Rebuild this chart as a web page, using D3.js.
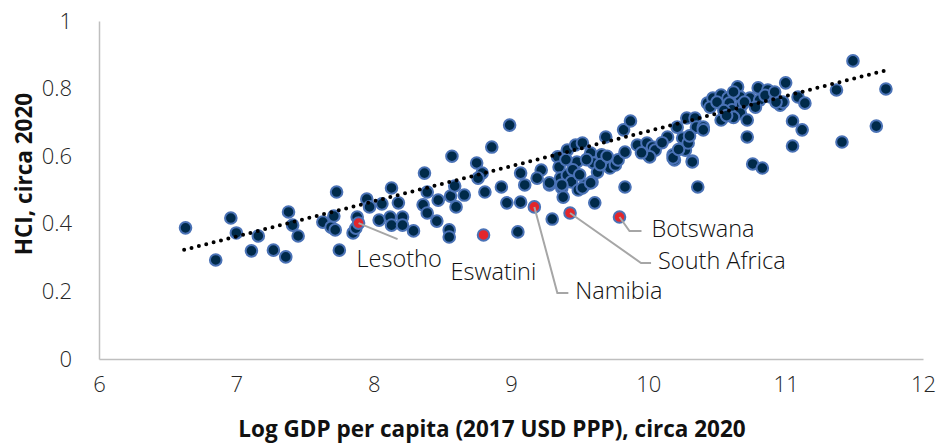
<!DOCTYPE html>
<html>
<head>
<meta charset="utf-8">
<script src="https://cdn.jsdelivr.net/npm/d3@7"></script>
<style>
  html, body { margin: 0; padding: 0; background: #ffffff; }
  svg { display: block; }
  text { font-family: "Open Sans", "Noto Sans", sans-serif; }
</style>
</head>
<body>
<svg id="chart" width="939" height="445"></svg>
<script>
// Log GDP per capita (2017 USD PPP) for each country, circa 2020
const gdp = [
  6.63, 6.85, 6.96, 7.00, 7.11, 7.16, 7.27, 7.36, 7.38, 7.41,
  7.45, 7.63, 7.69, 7.71, 7.73, 7.72, 7.85, 7.75, 7.88, 7.87,
  7.95, 7.97, 8.06, 8.13, 8.18, 8.04, 8.12, 8.13, 8.21, 8.21,
  8.29, 8.37, 8.39, 8.36, 8.39, 8.46, 8.47, 8.55, 8.55, 8.57,
  8.56, 8.59, 8.60, 8.66, 8.75, 8.79, 8.76, 8.86, 8.81, 8.93,
  8.97, 9.05, 9.07, 8.99, 9.07, 9.10, 9.22, 9.19, 9.28, 9.30,
  9.34, 9.35, 9.36, 9.37, 9.38, 9.41, 9.41, 9.44, 9.47, 9.48,
  9.49, 9.52, 9.54, 9.58, 9.59, 9.60, 9.61, 9.63, 9.66, 9.69,
  9.72, 9.76, 9.78, 9.83, 9.82, 9.87, 9.83, 9.92, 9.99, 10.00,
  10.03, 10.05, 10.01, 10.14, 10.18, 10.19, 10.21, 10.25, 10.27, 10.29,
  10.32, 10.28, 10.34, 10.35, 10.40, 10.36, 10.43, 10.47, 10.53, 10.53,
  10.58, 10.59, 10.61, 10.65, 10.67, 10.68, 10.67, 10.72, 10.72, 10.74,
  10.76, 10.83, 10.80, 10.81, 10.87, 10.89, 10.96, 11.00, 10.98, 10.93,
  11.09, 11.14, 11.05, 11.12, 11.05, 11.37, 11.49, 11.73, 11.66, 11.41,
  9.37, 9.28, 9.52, 9.58, 10.18, 10.32, 10.40, 9.45, 9.50, 9.55,
  9.40, 9.65, 9.70, 9.95, 10.10, 10.22, 10.30, 10.45, 10.50, 10.55,
  10.62, 10.70, 10.78, 10.85, 10.92, 10.62, 10.57
];

// Human Capital Index for the same countries, circa 2020
const hci = [
  0.388, 0.293, 0.417, 0.373, 0.320, 0.364, 0.322, 0.302, 0.435, 0.396,
  0.364, 0.405, 0.390, 0.423, 0.494, 0.382, 0.373, 0.322, 0.420, 0.387,
  0.473, 0.450, 0.459, 0.506, 0.462, 0.411, 0.420, 0.396, 0.420, 0.396,
  0.379, 0.550, 0.494, 0.456, 0.432, 0.408, 0.470, 0.382, 0.361, 0.600,
  0.482, 0.512, 0.450, 0.485, 0.580, 0.550, 0.535, 0.627, 0.494, 0.509,
  0.462, 0.376, 0.550, 0.692, 0.464, 0.515, 0.559, 0.535, 0.515, 0.414,
  0.598, 0.568, 0.535, 0.506, 0.479, 0.618, 0.544, 0.524, 0.633, 0.583,
  0.500, 0.639, 0.515, 0.609, 0.524, 0.580, 0.462, 0.553, 0.604, 0.657,
  0.565, 0.574, 0.589, 0.612, 0.678, 0.704, 0.509, 0.633, 0.639, 0.604,
  0.627, 0.618, 0.598, 0.657, 0.604, 0.589, 0.686, 0.654, 0.618, 0.639,
  0.586, 0.713, 0.713, 0.686, 0.686, 0.509, 0.757, 0.772, 0.781, 0.707,
  0.772, 0.757, 0.737, 0.805, 0.775, 0.751, 0.728, 0.707, 0.657, 0.772,
  0.577, 0.565, 0.802, 0.766, 0.796, 0.775, 0.751, 0.817, 0.760, 0.760,
  0.775, 0.757, 0.704, 0.678, 0.630, 0.796, 0.882, 0.799, 0.689, 0.642,
  0.515, 0.521, 0.506, 0.521, 0.595, 0.583, 0.678, 0.560, 0.545, 0.590,
  0.590, 0.575, 0.600, 0.610, 0.640, 0.620, 0.660, 0.745, 0.760, 0.735,
  0.790, 0.760, 0.745, 0.780, 0.790, 0.715, 0.720
];

// Southern African countries called out on the chart
const namedCountries = ["Lesotho", "Eswatini", "Namibia", "South Africa", "Botswana"];
const namedGdp = [7.89, 8.80, 9.17, 9.43, 9.79];
const namedHci = [0.402, 0.367, 0.450, 0.432, 0.420];

// Linear trend fitted across all countries
const trendGdp = [6.62, 11.72];
const trendHci = [0.323, 0.853];

// Axis ticks
const xTicks = [6, 7, 8, 9, 10, 11, 12];
const yTicks = [0, 0.2, 0.4, 0.6, 0.8, 1];

const svg = d3.select("#chart");
const plotLeft = 99, plotRight = 923, plotTop = 21, plotBottom = 359;

const x = d3.scaleLinear().domain([6, 12]).range([plotLeft, plotRight]);
const y = d3.scaleLinear().domain([0, 1]).range([plotBottom, plotTop]);

// Axes: plain grey lines, no tick marks
const xAxis = d3.axisBottom(x).tickValues(xTicks).tickSize(0).tickPadding(17)
  .tickFormat(d3.format("d"));
const yAxis = d3.axisLeft(y).tickValues(yTicks).tickSize(0).tickPadding(27)
  .tickFormat(d => d === 0 || d === 1 ? String(d) : d3.format(".1f")(d));

const gx = svg.append("g").attr("transform", `translate(0,${plotBottom})`).call(xAxis);
const gy = svg.append("g").attr("transform", `translate(${plotLeft},0)`).call(yAxis);

[gx, gy].forEach(g => {
  g.select(".domain").attr("stroke", "#bfbfbf").attr("stroke-width", 1.5);
  g.selectAll(".tick text")
    .attr("fill", "#262626")
    .style("font-size", "22px")
    .style("font-weight", 300);
});
gx.selectAll(".tick text").attr("dy", "0.71em");

// Country points
svg.append("g")
  .selectAll("circle")
  .data(d3.range(gdp.length))
  .join("circle")
  .attr("cx", i => x(gdp[i]))
  .attr("cy", i => y(hci[i]))
  .attr("r", 5.8)
  .attr("fill", "#002a4a")
  .attr("stroke", "#4a72b6")
  .attr("stroke-width", 2);

// Highlighted countries
svg.append("g")
  .selectAll("circle")
  .data(d3.range(namedCountries.length))
  .join("circle")
  .attr("cx", i => x(namedGdp[i]))
  .attr("cy", i => y(namedHci[i]))
  .attr("r", 5.8)
  .attr("fill", "#e3262b")
  .attr("stroke", "#4a72b6")
  .attr("stroke-width", 2);

// Dotted trend line
svg.append("path")
  .datum(d3.range(trendGdp.length))
  .attr("d", d3.line().x(i => x(trendGdp[i])).y(i => y(trendHci[i])))
  .attr("fill", "none")
  .attr("stroke", "#000")
  .attr("stroke-width", 4)
  .attr("stroke-linecap", "round")
  .attr("stroke-dasharray", "0 7.6");

// Leader lines from each highlighted point to its label (offsets in px)
const leaders = {
  "Lesotho":      [[0, 0], [39, 16]],
  "Namibia":      [[0, 0], [23, 86], [34, 86]],
  "South Africa": [[0, 0], [71, 50], [81, 50]],
  "Botswana":     [[0, 0], [10, 14], [22, 14]]
};
const labelOffset = {
  "Lesotho":      [-2, 44],
  "Eswatini":     [-33, 45],
  "Namibia":      [41, 92],
  "South Africa": [88, 56],
  "Botswana":     [32, 20]
};

const ann = svg.append("g");
namedCountries.forEach((name, i) => {
  const px = x(namedGdp[i]), py = y(namedHci[i]);
  if (leaders[name]) {
    ann.append("path")
      .attr("d", d3.line()(leaders[name].map(([dx, dy]) => [px + dx, py + dy])))
      .attr("fill", "none")
      .attr("stroke", "#a6a6a6")
      .attr("stroke-width", 2);
  }
  const [ox, oy] = labelOffset[name];
  ann.append("text")
    .attr("x", px + ox)
    .attr("y", py + oy)
    .attr("fill", "#111")
    .style("font-size", "23.5px")
    .style("font-weight", 300)
    .text(name);
});

// Axis titles
svg.append("text")
  .attr("x", 492)
  .attr("y", 437)
  .attr("text-anchor", "middle")
  .attr("fill", "#111")
  .style("font-size", "22.5px")
  .style("font-weight", 700)
  .text("Log GDP per capita (2017 USD PPP), circa 2020");

svg.append("text")
  .attr("transform", "translate(32,174) rotate(-90)")
  .attr("text-anchor", "middle")
  .attr("fill", "#111")
  .style("font-size", "22.5px")
  .style("font-weight", 700)
  .text("HCI, circa 2020");
</script>
</body>
</html>
